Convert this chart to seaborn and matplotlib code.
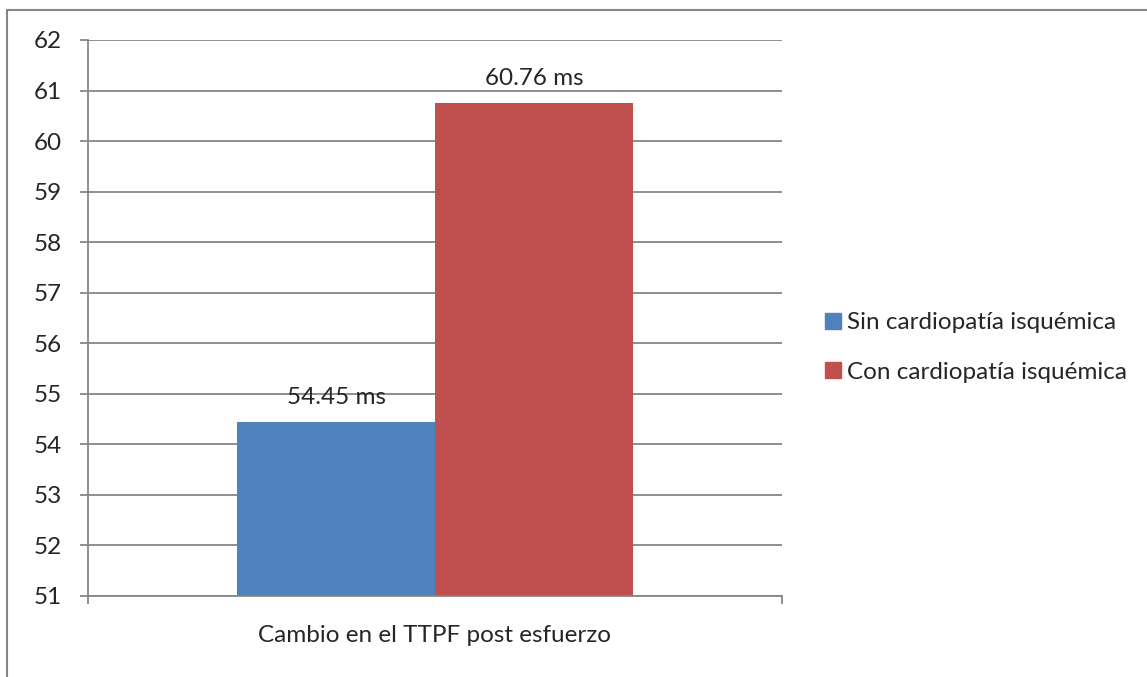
import pandas as pd
import seaborn as sns
import matplotlib.pyplot as plt
from matplotlib.lines import Line2D

categoria = ["Cambio en el TTPF post esfuerzo"]
series = ["Sin cardiopatía isquémica", "Con cardiopatía isquémica"]
valores = [54.45, 60.76]
colores = ["#4F81BD", "#C0504D"]
yticks = list(range(51, 63))

sns.set_style("white")
plt.rcParams["font.family"] = ["Lato", "DejaVu Sans"]
fs = 17.5
gris = "#868686"

df = pd.DataFrame({
    "cat": categoria * len(series),
    "serie": series,
    "valor": valores,
})

fig = plt.figure(figsize=(11.47, 6.77), dpi=100)
ax = fig.add_axes([88 / 1147, 1 - 596 / 677, (782 - 88) / 1147, (596 - 40) / 677])

sns.barplot(data=df, x="cat", y="valor", hue="serie", palette=colores,
            width=0.57, saturation=1, linewidth=0, ax=ax, legend=False)

ax.set_xlim(-0.5, 0.5)
ax.set_ylim(51, 62)
ax.set_yticks(yticks)
ax.yaxis.grid(True, color=gris, linewidth=1.3)
ax.set_axisbelow(True)
for s in ["top", "right"]:
    ax.spines[s].set_visible(False)
for s in ["left", "bottom"]:
    ax.spines[s].set_color(gris)
    ax.spines[s].set_linewidth(1.3)

ax.tick_params(axis="y", length=6, width=1.3, color=gris, labelsize=fs, pad=13, left=True)
ax.set_xticks([-0.5, 0.5], minor=True)
ax.set_xticks([0])
ax.tick_params(axis="x", which="major", length=0, labelsize=fs, pad=21)
ax.tick_params(axis="x", which="minor", length=6, width=1.3, color=gris, bottom=True)
ax.set_xlabel("")
ax.set_ylabel("")

for cont in ax.containers:
    ax.bar_label(cont, labels=[f"{v:.2f} ms" for v in cont.datavalues], padding=10, fontsize=fs)

handles = [Line2D([], [], marker="s", linestyle="", markersize=11, color=c) for c in colores]
fig.legend(handles, series, loc="center left", bbox_to_anchor=(824 / 1147, 1 - 347.5 / 677),
           frameon=False, fontsize=fs, handletextpad=0.25, labelspacing=1.17, handlelength=0.7,
           borderpad=0, borderaxespad=0)

# marco exterior
fig.add_artist(Line2D([7 / 1147, 7 / 1147], [0, 1 - 10 / 677], color=gris, linewidth=1.5))
fig.add_artist(Line2D([7 / 1147, 1], [1 - 10 / 677, 1 - 10 / 677], color=gris, linewidth=1.5))

fig.savefig("out.png", dpi=100)
